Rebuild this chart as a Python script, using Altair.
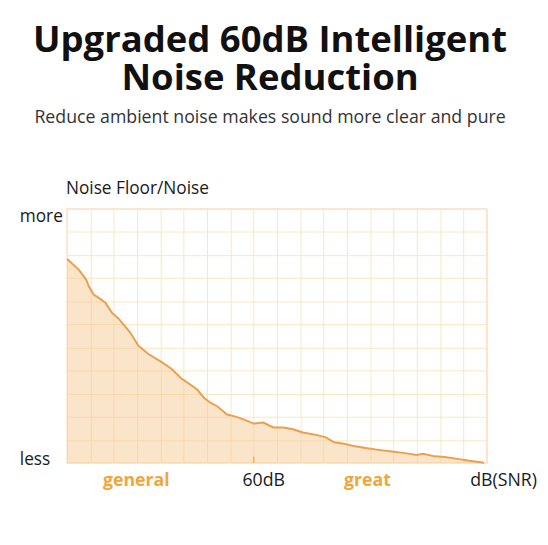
import altair as alt
import pandas as pd

# curve (x: grid columns 0..18, y: grid rows 0..11)
xs = [0.0, 0.51, 0.82, 0.93, 1.14, 1.36, 1.64, 1.92, 2.20, 2.70, 3.05, 3.47, 4.04, 4.46,
      4.89, 5.31, 5.59, 5.88, 6.16, 6.44, 6.86, 7.15, 7.57, 8.00, 8.42, 8.84, 9.27, 9.69,
      10.11, 10.68, 11.10, 11.45, 11.81, 12.23, 12.80, 13.36, 13.93, 14.49, 14.99, 15.27,
      15.76, 16.19, 16.75, 17.32, 17.88]
ys = [8.83, 8.36, 7.93, 7.65, 7.29, 7.15, 6.94, 6.51, 6.26, 5.66, 5.09, 4.73, 4.38, 4.09,
      3.67, 3.38, 3.17, 2.81, 2.60, 2.46, 2.10, 2.03, 1.89, 1.71, 1.75, 1.54, 1.54, 1.46,
      1.32, 1.22, 1.11, 0.90, 0.85, 0.75, 0.65, 0.57, 0.50, 0.43, 0.35, 0.40,
      0.29, 0.26, 0.18, 0.09, 0.01]

grid_x = list(range(0, 19))
grid_y = list(range(0, 12))

title_lines = ["Upgraded 60dB Intelligent", "Noise Reduction"]
subtitle_text = "Reduce ambient noise makes sound more clear and pure"
y_title = "Noise Floor/Noise"
y_top_label = "more"
y_bottom_label = "less"
mark_60 = 8
x_labels = ["general", "60dB", "great", "dB(SNR)"]

FONT = "Open Sans"
ORANGE = "#f0a63a"
LINE = "#e9a04c"

df = pd.DataFrame({"x": xs, "y": ys})

xscale = alt.Scale(domain=[0, 18], nice=False, zero=False)
yscale = alt.Scale(domain=[0, 11], nice=False, zero=False)

xaxis = alt.Axis(values=grid_x, grid=True, gridColor="#fae7c0", gridWidth=1,
                 labels=False, ticks=False, domain=False, title=None, labelOverlap=False)
yaxis = alt.Axis(values=grid_y, grid=True, gridColor="#fae7c0", gridWidth=1,
                 labels=False, ticks=False, domain=False, title=None, labelOverlap=False)

base = alt.Chart(df)

area = base.mark_area(color="#f6c58a", opacity=0.45).encode(
    x=alt.X("x:Q", scale=xscale, axis=xaxis),
    y=alt.Y("y:Q", scale=yscale, axis=yaxis),
)
line = base.mark_line(color=LINE, strokeWidth=2).encode(
    x=alt.X("x:Q", scale=xscale, axis=xaxis),
    y=alt.Y("y:Q", scale=yscale, axis=yaxis),
)

tick = alt.Chart(pd.DataFrame({"x": [mark_60]})).mark_rule(color="#f2b44a", strokeWidth=1.5).encode(
    x=alt.X("x:Q", scale=xscale, axis=xaxis),
    y=alt.datum(0, scale=yscale, axis=yaxis),
    y2=alt.datum(0.28),
)

def txt(s, x, y, color="#1a1a1a", weight="normal", align="center", size=18):
    return alt.Chart().mark_text(text=s, font=FONT, fontSize=size, color=color,
                                 fontWeight=weight, align=align, baseline="middle").encode(
        x=alt.datum(x, scale=xscale, axis=xaxis), y=alt.datum(y, scale=yscale, axis=yaxis))

labels = [
    txt(y_title, -0.05, 11.85, align="left", size=17.5),
    txt(y_top_label, -2.03, 10.66, align="left", size=17.5),
    txt(y_bottom_label, -2.03, 0.12, align="left", size=17.5),
    txt(x_labels[0], 2.97, -0.78, color=ORANGE, weight="bold"),
    txt(x_labels[1], 8.43, -0.78),
    txt(x_labels[2], 12.88, -0.78, color=ORANGE, weight="bold"),
    txt(x_labels[3], 18.72, -0.78),
]

chart = alt.layer(area, line, tick, *labels).properties(
    width=426, height=258,
    title=alt.TitleParams(
        text=title_lines, subtitle=subtitle_text, anchor="middle",
        font=FONT, fontSize=37, fontWeight="bold", color="#111111", lineHeight=38,
        subtitleFont=FONT, subtitleFontSize=18, subtitleColor="#333333",
        subtitlePadding=12, offset=53, dx=-7,
    ),
    padding={"left": 60, "top": 200, "right": 54, "bottom": 60},
    autosize=alt.AutoSizeParams(type="none"),
).configure_view(stroke="#fde0c6", strokeWidth=1.5)

chart.save("out.html", embed_options={"renderer": "svg", "actions": False})
